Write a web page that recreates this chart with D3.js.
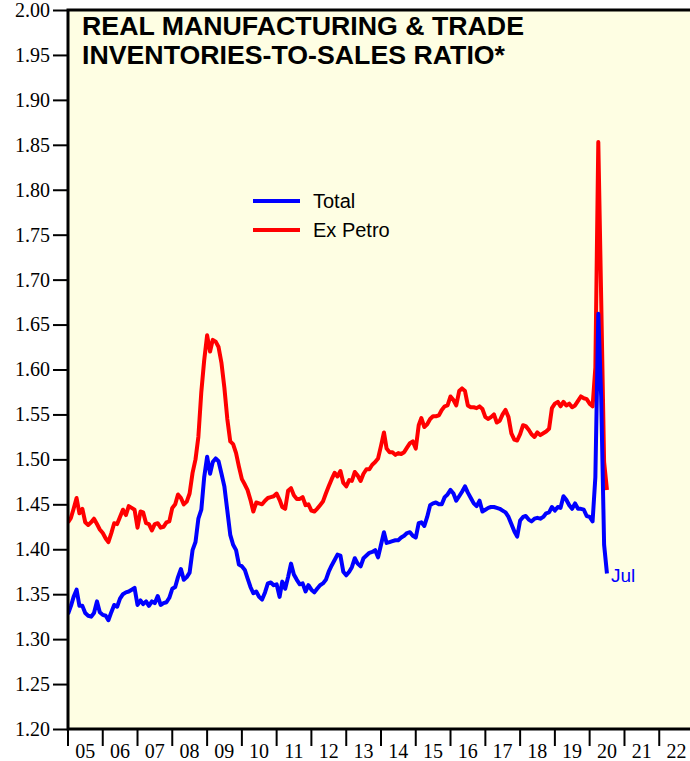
<!DOCTYPE html>
<html>
<head>
<meta charset="utf-8">
<script src="https://cdn.jsdelivr.net/npm/d3@7"></script>
<style>
  html, body { margin: 0; padding: 0; background: #ffffff; }
  svg { display: block; }
</style>
</head>
<body>
<svg id="chart"></svg>
<script>
// monthly ratios, Jan 2005 .. Jul 2020 (one row per year)
const totalRatio = [
  1.328,1.337,1.347,1.355,1.337,1.337,1.329,1.326,1.325,1.329,1.342,1.330,
  1.327,1.326,1.321,1.330,1.338,1.336,1.345,1.350,1.352,1.353,1.355,1.357,
  1.338,1.343,1.339,1.342,1.337,1.342,1.340,1.348,1.338,1.340,1.341,1.346,
  1.356,1.358,1.369,1.378,1.366,1.369,1.374,1.399,1.408,1.434,1.444,1.480,
  1.503,1.484,1.497,1.501,1.498,1.484,1.470,1.443,1.416,1.405,1.399,1.383,
  1.381,1.377,1.368,1.358,1.351,1.353,1.347,1.344,1.352,1.362,1.363,1.360,
  1.361,1.347,1.364,1.356,1.369,1.384,1.372,1.366,1.361,1.362,1.353,1.360,
  1.355,1.352,1.356,1.360,1.362,1.366,1.375,1.382,1.388,1.394,1.393,1.375,
  1.371,1.375,1.380,1.390,1.384,1.381,1.390,1.393,1.396,1.397,1.399,1.391,
  1.405,1.419,1.407,1.408,1.409,1.410,1.410,1.413,1.415,1.418,1.419,1.415,
  1.413,1.429,1.430,1.426,1.436,1.449,1.451,1.452,1.450,1.450,1.458,1.461,
  1.466,1.462,1.454,1.459,1.464,1.470,1.463,1.457,1.451,1.448,1.454,1.442,
  1.444,1.446,1.447,1.447,1.446,1.445,1.443,1.441,1.436,1.428,1.420,1.414,
  1.432,1.436,1.437,1.433,1.431,1.434,1.435,1.434,1.436,1.440,1.441,1.447,
  1.443,1.447,1.446,1.459,1.455,1.449,1.445,1.451,1.445,1.445,1.444,1.437,
  1.436,1.431,1.480,1.662,1.570,1.405,1.373
];

const exPetroRatio = [
  1.430,1.435,1.445,1.457,1.440,1.445,1.430,1.427,1.430,1.434,1.428,1.422,
  1.418,1.412,1.408,1.418,1.429,1.428,1.436,1.444,1.438,1.448,1.446,1.444,
  1.424,1.442,1.441,1.429,1.428,1.421,1.428,1.429,1.424,1.425,1.430,1.431,
  1.446,1.450,1.461,1.457,1.450,1.453,1.462,1.485,1.500,1.525,1.575,1.610,
  1.638,1.620,1.633,1.631,1.625,1.607,1.580,1.545,1.520,1.517,1.507,1.492,
  1.478,1.472,1.466,1.455,1.442,1.452,1.451,1.450,1.454,1.457,1.458,1.459,
  1.462,1.455,1.447,1.445,1.465,1.468,1.460,1.456,1.456,1.458,1.449,1.450,
  1.443,1.442,1.445,1.449,1.453,1.462,1.470,1.478,1.485,1.481,1.487,1.474,
  1.470,1.477,1.476,1.486,1.482,1.476,1.484,1.489,1.489,1.494,1.497,1.501,
  1.515,1.530,1.512,1.508,1.508,1.505,1.507,1.506,1.508,1.513,1.518,1.520,
  1.512,1.538,1.546,1.536,1.539,1.545,1.548,1.548,1.549,1.555,1.559,1.560,
  1.570,1.566,1.560,1.576,1.579,1.576,1.560,1.558,1.558,1.557,1.559,1.556,
  1.547,1.545,1.547,1.550,1.541,1.543,1.550,1.555,1.547,1.529,1.522,1.521,
  1.528,1.538,1.537,1.533,1.528,1.525,1.530,1.527,1.529,1.531,1.534,1.557,
  1.562,1.564,1.559,1.564,1.560,1.562,1.558,1.560,1.565,1.570,1.568,1.567,
  1.562,1.559,1.602,1.853,1.680,1.497,1.466
];

const yearLabels = ["05","06","07","08","09","10","11","12","13","14","15","16","17","18","19","20","21","22"];
const yTickValues = [1.20,1.25,1.30,1.35,1.40,1.45,1.50,1.55,1.60,1.65,1.70,1.75,1.80,1.85,1.90,1.95,2.00];
const seriesNames = ["Total", "Ex Petro"];
const titleLines = ["REAL MANUFACTURING & TRADE", "INVENTORIES-TO-SALES RATIO*"];
const lastLabel = "Jul";

const dims = {
  width: 690,
  height: 761,
  plot: { left: 68, top: 10, right: 694, bottom: 729 },
  title: { x: 82, y: 35, lineGap: 29, widths: [442, 423] },
};

const colors = { total: "#0000ff", exPetro: "#ff0000" };

const svg = d3.select("#chart")
  .attr("width", dims.width)
  .attr("height", dims.height)
  .attr("viewBox", [0, 0, dims.width, dims.height]);

const months = totalRatio.map((_, i) => new Date(2005, i, 1));

const xScale = d3.scaleTime()
  .domain([new Date(2005, 0, 1), new Date(2023, 0, 1)])
  .range([dims.plot.left, dims.plot.right]);

const yScale = d3.scaleLinear()
  .domain([1.2, 2.0])
  .range([dims.plot.bottom, dims.plot.top]);

// plot background
svg.append("rect")
  .attr("x", dims.plot.left)
  .attr("y", dims.plot.top)
  .attr("width", dims.plot.right - dims.plot.left)
  .attr("height", dims.plot.bottom - dims.plot.top)
  .attr("fill", "#fefee3");

svg.append("clipPath")
  .attr("id", "plot-clip")
  .append("rect")
  .attr("x", dims.plot.left)
  .attr("y", dims.plot.top)
  .attr("width", dims.plot.right - dims.plot.left)
  .attr("height", dims.plot.bottom - dims.plot.top);

// y axis
svg.append("g")
  .attr("transform", `translate(${dims.plot.left},0)`)
  .call(d3.axisLeft(yScale).tickValues(yTickValues).tickSize(15).tickPadding(3).tickFormat(d3.format(".2f")))
  .call((g) => {
    g.select("path.domain").remove();
    g.selectAll(".tick line").attr("stroke", "#000").attr("stroke-width", 2);
    g.selectAll(".tick text")
      .attr("font-family", "'Liberation Serif', 'Times New Roman', serif")
      .attr("font-size", 20)
      .attr("fill", "#000");
  });

// x axis: ticks at year starts, labels mid-year
const yearStarts = d3.range(2005, 2024).map((y) => new Date(y, 0, 1));
const xAxis = svg.append("g").attr("id", "x-axis");
xAxis.selectAll("line")
  .data(yearStarts)
  .join("line")
  .attr("x1", (d) => xScale(d))
  .attr("x2", (d) => xScale(d))
  .attr("y1", dims.plot.bottom)
  .attr("y2", dims.plot.bottom + 17)
  .attr("stroke", "#000")
  .attr("stroke-width", 2);

xAxis.selectAll("text")
  .data(yearLabels)
  .join("text")
  .attr("x", (d, i) => xScale(new Date(2005 + i, 6, 1)))
  .attr("y", 758)
  .attr("text-anchor", "middle")
  .attr("font-family", "'Liberation Serif', 'Times New Roman', serif")
  .attr("font-size", 20)
  .text((d) => d);

// lines
const lineGen = (values) => d3.line()
  .x((d, i) => xScale(months[i]))
  .y((d) => yScale(d))(values);

const lines = svg.append("g").attr("clip-path", "url(#plot-clip)");
lines.append("path")
  .attr("d", lineGen(exPetroRatio))
  .attr("fill", "none")
  .attr("stroke", colors.exPetro)
  .attr("stroke-width", 4)
  .attr("stroke-linejoin", "round");
lines.append("path")
  .attr("d", lineGen(totalRatio))
  .attr("fill", "none")
  .attr("stroke", colors.total)
  .attr("stroke-width", 4)
  .attr("stroke-linejoin", "round");

// last month label
const lastIdx = totalRatio.length - 1;
svg.append("text")
  .attr("x", xScale(months[lastIdx]) + 4)
  .attr("y", yScale(totalRatio[lastIdx]) + 8)
  .attr("font-family", "'Liberation Sans', Arial, sans-serif")
  .attr("font-size", 19)
  .attr("fill", colors.total)
  .text(lastLabel);

// frame
svg.append("rect")
  .attr("x", dims.plot.left)
  .attr("y", dims.plot.top)
  .attr("width", dims.plot.right - dims.plot.left)
  .attr("height", dims.plot.bottom - dims.plot.top)
  .attr("fill", "none")
  .attr("stroke", "#000")
  .attr("stroke-width", 3);

// title
const title = svg.append("g")
  .attr("font-family", "'Liberation Sans', Arial, sans-serif")
  .attr("font-weight", "bold")
  .attr("font-size", 25)
  .attr("fill", "#000");
titleLines.forEach((t, i) => {
  title.append("text")
    .attr("x", dims.title.x)
    .attr("y", dims.title.y + i * dims.title.lineGap)
    .attr("textLength", dims.title.widths[i])
    .attr("lengthAdjust", "spacingAndGlyphs")
    .text(t);
});

// legend
const legend = svg.append("g").attr("transform", "translate(253,201)");
[colors.total, colors.exPetro].forEach((c, i) => {
  const row = legend.append("g").attr("transform", `translate(0,${i * 29})`);
  row.append("line")
    .attr("x1", 0).attr("x2", 47)
    .attr("y1", 0).attr("y2", 0)
    .attr("stroke", c)
    .attr("stroke-width", 4);
  row.append("text")
    .attr("x", 60)
    .attr("y", 7)
    .attr("font-family", "'Liberation Sans', Arial, sans-serif")
    .attr("font-size", 20)
    .attr("fill", "#000")
    .text(seriesNames[i]);
});
</script>
</body>
</html>
